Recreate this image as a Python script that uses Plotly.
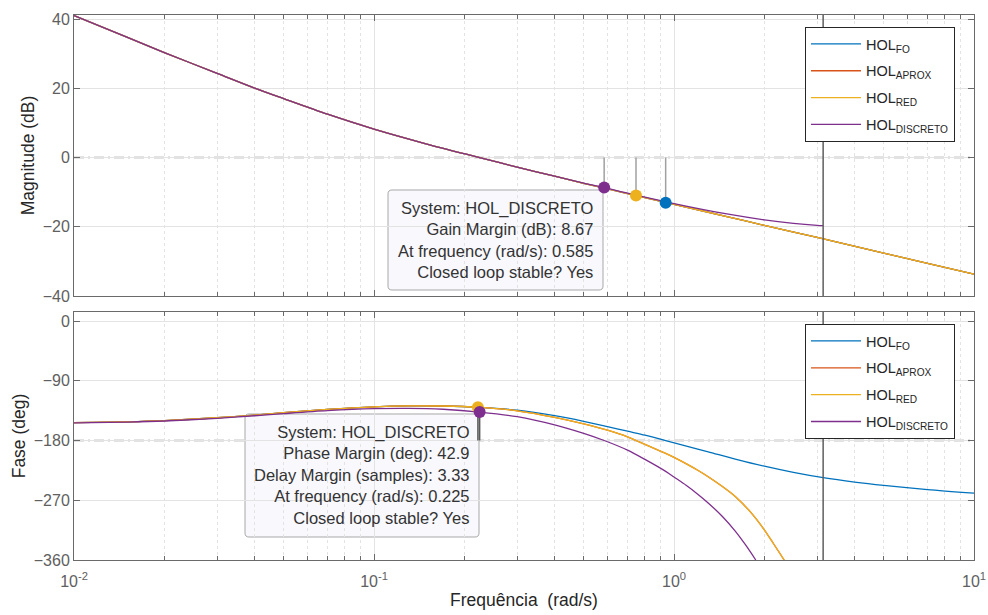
import numpy as np
import plotly.graph_objects as go

# ---------------- data ----------------
# magnitude (dB) sample frequencies, rad/s
freq_mag = [0.01, 0.015, 0.02, 0.03, 0.04, 0.05, 0.07, 0.1, 0.15, 0.2, 0.225, 0.3,
            0.4, 0.5, 0.7, 1.0, 1.5, 2.0, 3.0, 5.0, 7.0, 10.0]
mag_fo = [41.0, 34.75, 30.3, 24.3, 20.05, 17.0, 12.5, 8.2, 3.9, 1.1, 0.0, -2.8,
          -5.4, -7.45, -10.4, -13.5, -17.05, -19.6, -23.1, -27.6, -30.6, -33.7]
mag_aprox = [41.0, 34.75, 30.3, 24.3, 20.05, 17.0, 12.5, 8.2, 3.9, 1.1, 0.0, -2.8,
             -5.4, -7.45, -10.4, -13.5, -17.05, -19.6, -23.1, -27.6, -30.6, -33.7]
mag_red = [41.0, 34.75, 30.3, 24.3, 20.05, 17.0, 12.5, 8.2, 3.9, 1.1, 0.0, -2.8,
           -5.4, -7.45, -10.4, -13.5, -17.05, -19.6, -23.1, -27.6, -30.6, -33.7]
# discrete model only up to the Nyquist frequency (Ts = 1 s)
freq_mag_d = [0.01, 0.015, 0.02, 0.03, 0.04, 0.05, 0.07, 0.1, 0.15, 0.2, 0.225, 0.3,
              0.4, 0.5, 0.585, 0.7, 1.0, 1.5, 2.0, 2.5, 3.0, 3.1416]
mag_disc = [41.0, 34.75, 30.3, 24.3, 20.05, 17.0, 12.5, 8.2, 3.9, 1.1, 0.0, -2.8,
            -5.4, -7.4, -8.67, -10.3, -13.3, -16.3, -18.0, -19.0, -19.6, -19.7]

# phase (deg)
freq_ph = [0.01, 0.015, 0.02, 0.03, 0.04, 0.05, 0.07, 0.1, 0.13, 0.17, 0.225, 0.3,
           0.4, 0.5, 0.6, 0.7, 0.8, 0.938, 1.1, 1.3, 1.6, 2.0, 2.5, 3.1416, 4.0,
           5.0, 7.0, 10.0]
ph_fo = [-153.2, -151.8, -150.0, -145.7, -141.6, -138.1, -133.1, -129.2, -127.8,
         -128.0, -130.0, -134.3, -142.5, -151.0, -159.0, -166.0, -172.0, -180.0,
         -188.5, -197.0, -208.0, -218.7, -228.0, -236.0, -242.6, -247.6, -253.9,
         -259.3]
freq_ph_r = [0.01, 0.015, 0.02, 0.03, 0.04, 0.05, 0.07, 0.1, 0.13, 0.17, 0.225, 0.3,
             0.4, 0.5, 0.6, 0.7, 0.747, 0.8, 0.938, 1.0, 1.1, 1.2, 1.3, 1.45, 1.6,
             1.8, 2.0, 2.15, 2.33]
ph_aprox = [-153.2, -151.8, -150.0, -145.7, -141.6, -138.1, -133.1, -129.2, -127.8,
            -128.0, -130.1, -135.2, -145.0, -155.0, -164.5, -174.5, -180.0, -185.7,
            -199.5, -205.5, -215.2, -224.8, -234.6, -249.3, -264.3, -287.9, -314.5,
            -335.9, -360.0]
ph_red = [-153.2, -151.8, -150.0, -145.7, -141.6, -138.1, -133.1, -129.2, -127.8,
          -128.0, -130.1, -135.2, -145.0, -155.0, -164.5, -174.5, -180.0, -185.7,
          -199.5, -205.5, -215.2, -224.8, -234.6, -249.3, -264.3, -287.9, -314.5,
          -335.9, -360.0]
freq_ph_d = [0.01, 0.015, 0.02, 0.03, 0.04, 0.05, 0.07, 0.1, 0.13, 0.17, 0.225, 0.3,
             0.4, 0.5, 0.585, 0.7, 0.8, 0.938, 1.0, 1.1, 1.2, 1.3, 1.45, 1.6, 1.73,
             1.873]
ph_disc = [-153.5, -152.2, -150.6, -146.6, -142.7, -139.5, -135.1, -132.1, -131.5,
           -132.9, -137.1, -144.1, -156.5, -169.3, -180.0, -194.5, -208.5, -226.5,
           -235.0, -247.8, -260.8, -274.0, -294.5, -316.5, -337.0, -360.0]

# stability margins (data tips)
gm_freq = {"FO": 0.938, "RED": 0.747, "DISCRETO": 0.585}
gm_db = {"FO": 13.05, "RED": 11.0, "DISCRETO": 8.67}
pm_freq = {"RED": 0.222, "DISCRETO": 0.225}
pm_deg = {"RED": 50.2, "DISCRETO": 42.9}
dm_samples = 3.33
ts = 1.0

names = ["HOL<sub>FO</sub>", "HOL<sub>APROX</sub>", "HOL<sub>RED</sub>",
         "HOL<sub>DISCRETO</sub>"]
colors = ["#0072BD", "#D95319", "#EDB120", "#7E2F8E"]

# decade ticks and the 2..9 minor ticks of a log axis
decades = [0.01, 0.1, 1, 10]
decade_text = ["10<sup>-2</sup>", "10<sup>-1</sup>", "10<sup>0</sup>", "10<sup>1</sup>"]
minor_vals = [m * d for d in decades[:-1] for m in range(2, 10)]

FONT = "Liberation Sans, Arial, Helvetica, sans-serif"
W, H = 988, 615
M = dict(l=74, r=14, t=15, b=55)

fig = go.Figure()

mag_sets = [(freq_mag, mag_fo), (freq_mag, mag_aprox), (freq_mag, mag_red),
            (freq_mag_d, mag_disc)]
ph_sets = [(freq_ph, ph_fo), (freq_ph_r, ph_aprox), (freq_ph_r, ph_red),
           (freq_ph_d, ph_disc)]

for i, ((f, m), name, c) in enumerate(zip(mag_sets, names, colors)):
    fig.add_trace(go.Scatter(x=f, y=m, mode="lines", name=name,
                             legendgroup=f"m{i}",
                             line=dict(color=c, width=1.3, shape="spline",
                                       smoothing=0.8),
                             xaxis="x", yaxis="y", legend="legend"))
for i, ((f, p), name, c) in enumerate(zip(ph_sets, names, colors)):
    fig.add_trace(go.Scatter(x=f, y=p, mode="lines", name=name,
                             legendgroup=f"p{i}",
                             line=dict(color=c, width=1.3, shape="spline",
                                       smoothing=0.8),
                             xaxis="x2", yaxis="y2", legend="legend2"))

# gain-margin stems and markers
for key, c in [("DISCRETO", colors[3]), ("RED", colors[2]), ("FO", colors[0])]:
    f = gm_freq[key]
    fig.add_trace(go.Scatter(x=[f, f], y=[0, -gm_db[key]], mode="lines",
                             line=dict(color="#a0a0a0", width=1.5),
                             showlegend=False, hoverinfo="skip",
                             xaxis="x", yaxis="y"))
    fig.add_trace(go.Scatter(x=[f], y=[-gm_db[key]], mode="markers",
                             marker=dict(color=c, size=12),
                             showlegend=False, xaxis="x", yaxis="y"))

# phase-margin stems and markers
for key, c in [("RED", colors[2]), ("DISCRETO", colors[3])]:
    f = pm_freq[key]
    fig.add_trace(go.Scatter(x=[f, f], y=[-180 + pm_deg[key], -180], mode="lines",
                             line=dict(color="#5a5a5a", width=1.5),
                             showlegend=False, hoverinfo="skip",
                             xaxis="x2", yaxis="y2"))
    fig.add_trace(go.Scatter(x=[f], y=[-180 + pm_deg[key]], mode="markers",
                             marker=dict(color=c, size=12),
                             showlegend=False, xaxis="x2", yaxis="y2"))


def px_to_paper(px, py):
    """Convert a pixel position of the page into paper coordinates."""
    pw = W - M["l"] - M["r"]
    ph = H - M["t"] - M["b"]
    return (px - M["l"]) / pw, (H - M["b"] - py) / ph


def rounded_box(x0, y0, x1, y1, r=4):
    """SVG path (paper coords) of a rounded rectangle given in pixels."""
    def p(x, y):
        u, v = px_to_paper(x, y)
        return f"{u:.5f},{v:.5f}"
    return " ".join([
        f"M{p(x0 + r, y0)}", f"L{p(x1 - r, y0)}", f"Q{p(x1, y0)} {p(x1, y0 + r)}",
        f"L{p(x1, y1 - r)}", f"Q{p(x1, y1)} {p(x1 - r, y1)}", f"L{p(x0 + r, y1)}",
        f"Q{p(x0, y1)} {p(x0, y1 - r)}", f"L{p(x0, y0 + r)}",
        f"Q{p(x0, y0)} {p(x0 + r, y0)}Z",
    ])


# reference lines: 0 dB, -180 deg and the Nyquist frequency
nyq = np.pi / ts
dashdot = "10px,4px,2px,4px"
tip_fill = dict(fillcolor="#f8f8fd", line=dict(color="#a8a8a8", width=1))
shapes = [
    dict(type="line", xref="x domain", yref="y", x0=0, x1=1, y0=0, y1=0,
         line=dict(color="#8c8c8c", width=1.4, dash=dashdot), layer="below"),
    dict(type="line", xref="x2 domain", yref="y2", x0=0, x1=1, y0=-180, y1=-180,
         line=dict(color="#8c8c8c", width=1.4, dash=dashdot), layer="below"),
    dict(type="line", xref="x", yref="y domain", x0=nyq, x1=nyq,
         y0=0, y1=1, line=dict(color="#5e5e5e", width=1.5)),
    dict(type="line", xref="x2", yref="y2 domain", x0=nyq, x1=nyq,
         y0=0, y1=1, line=dict(color="#5e5e5e", width=1.5)),
    # data-tip panels
    dict(type="path", xref="paper", yref="paper", path=rounded_box(388, 190, 603, 290),
         layer="between", **tip_fill),
    dict(type="path", xref="paper", yref="paper", path=rounded_box(245, 414, 479, 537),
         layer="between", **tip_fill),
]

ax_common = dict(type="log", range=[-2, 1], showline=True, linecolor="#6a6a6a",
                 linewidth=1, mirror="ticks", ticks="inside", ticklen=6,
                 tickcolor="#6a6a6a", showgrid=True, gridcolor="#e3e3e3",
                 gridwidth=1, zeroline=False, automargin=False,
                 tickvals=decades,
                 minor=dict(tickvals=minor_vals, ticks="inside", ticklen=4,
                            tickcolor="#6a6a6a", showgrid=True,
                            gridcolor="#e3e3e3", griddash="dot"),
                 tickfont=dict(family=FONT, size=16, color="#606060"))
ya_common = dict(showline=True, linecolor="#6a6a6a", linewidth=1, mirror="ticks",
                 ticks="inside", ticklen=6, tickcolor="#6a6a6a", showgrid=True,
                 gridcolor="#e3e3e3", zeroline=False, automargin=False,
                 tickfont=dict(family=FONT, size=16, color="#606060"))

legend_style = dict(xanchor="left", yanchor="top", bgcolor="white",
                    bordercolor="#262626", borderwidth=1, tracegroupgap=5,
                    itemwidth=50,
                    font=dict(family=FONT, size=14.5, color="#262626"))

fig.update_layout(
    width=W, height=H,
    margin=M,
    paper_bgcolor="white", plot_bgcolor="white",
    font=dict(family=FONT, color="#262626"),
    xaxis=dict(**ax_common, domain=[0, 1], anchor="y", showticklabels=False),
    yaxis=dict(**ya_common, domain=[0.4844, 1], range=[-40, 41.16],
               tickvals=[-40, -20, 0, 20, 40],
               title=dict(text="Magnitude (dB)", standoff=3,
                          font=dict(family=FONT, size=17.5, color="#262626"))),
    xaxis2=dict(**ax_common, domain=[0, 1], anchor="y2", ticktext=decade_text,
                ticklabelstandoff=7,
                title=dict(text="Frequência\u00a0\u00a0(rad/s)", standoff=4,
                           font=dict(family=FONT, size=17.5, color="#262626"))),
    yaxis2=dict(**ya_common, domain=[0, 0.455], range=[-360, 13.56],
                tickvals=[-360, -270, -180, -90, 0],
                title=dict(text="Fase (deg)", standoff=3,
                           font=dict(family=FONT, size=17.5, color="#262626"))),
    shapes=shapes,
    legend=dict(x=0.8122, y=0.978, **legend_style),
    legend2=dict(x=0.8122, y=0.433, **legend_style),
    showlegend=True,
)

# data-tip texts
tip_gm = ("System: HOL_DISCRETO<br>"
          f"Gain Margin (dB): {gm_db['DISCRETO']:.2f}<br>"
          f"At frequency (rad/s): {gm_freq['DISCRETO']:.3f}<br>"
          "Closed loop stable? Yes")
tip_pm = ("System: HOL_DISCRETO<br>"
          f"Phase Margin (deg): {pm_deg['DISCRETO']:.1f}<br>"
          f"Delay Margin (samples): {dm_samples:.2f}<br>"
          f"At frequency (rad/s): {pm_freq['DISCRETO']:.3f}<br>"
          "Closed loop stable? Yes")
tip_style = dict(showarrow=False, align="right", xref="paper", yref="paper",
                 xanchor="right", yanchor="top", borderwidth=1,
                 bordercolor="rgba(0,0,0,0)", borderpad=8,
                 font=dict(family=FONT, size=16.5, color="#333333"))
x_gm, y_gm = px_to_paper(603, 190)
x_pm, y_pm = px_to_paper(479, 414)
fig.add_annotation(text=tip_gm, x=x_gm, y=y_gm, **tip_style)
fig.add_annotation(text=tip_pm, x=x_pm, y=y_pm, **tip_style)

fig.write_html("out.html")
